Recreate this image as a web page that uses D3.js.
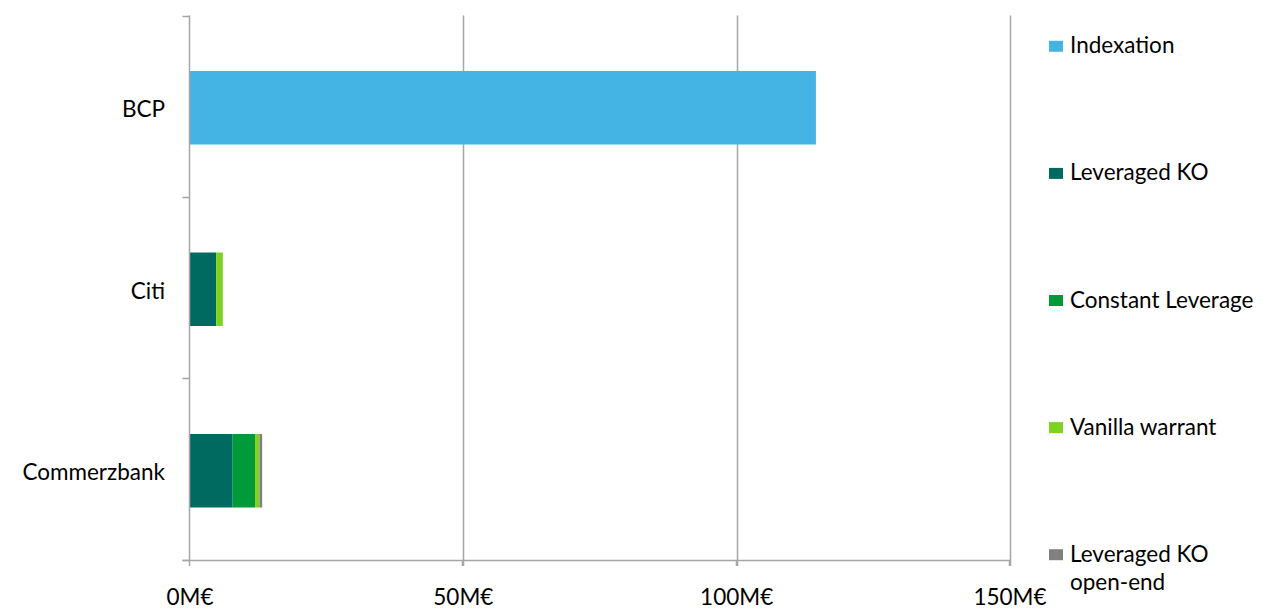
<!DOCTYPE html>
<html><head><meta charset="utf-8">
<script src="https://cdn.jsdelivr.net/npm/d3@7"></script>
<style>body{margin:0;background:#fff;}svg{display:block;font-family:Lato,"Open Sans",sans-serif;}</style>
</head><body>
<svg id="chart" width="1266" height="612"></svg>
<script>
const categories = ["BCP", "Citi", "Commerzbank"];
const seriesNames = ["Indexation", "Leveraged KO", "Constant Leverage", "Vanilla warrant", "Leveraged KO open-end"];
const seriesColors = ["#44b4e4", "#006a60", "#009a3a", "#7ed321", "#808080"];
const indexation = [114.5, 0, 0];
const leveragedKO = [0, 4.8, 7.8];
const constantLeverage = [0, 0, 4.1];
const vanillaWarrant = [0, 1.2, 0.8];
const leveragedKOOpenEnd = [0, 0, 0.5];
const xTicks = [0, 50, 100, 150];
const xTickLabels = ["0M€", "50M€", "100M€", "150M€"];

(function () {
const seriesValues = [indexation, leveragedKO, constantLeverage, vanillaWarrant, leveragedKOOpenEnd];
const rows = categories.map((c, i) => {
  const r = {cat: c};
  seriesNames.forEach((s, j) => r[s] = seriesValues[j][i]);
  return r;
});

const svg = d3.select("#chart");
const pLeft = 190, pRight = 1010, pTop = 15.5, pBottom = 560;
const x = d3.scaleLinear().domain([0, 150]).range([pLeft, pRight]);
const y = d3.scaleBand().domain(categories).range([pTop, pBottom]).paddingInner(0.595).paddingOuter(0.2975);
const grid = "#a6a6a6";
const fs = 22.5;

svg.append("g").selectAll("line").data(xTicks.slice(1)).join("line")
  .attr("x1", d => Math.round(x(d)) + 0.5).attr("x2", d => Math.round(x(d)) + 0.5)
  .attr("y1", pTop).attr("y2", pBottom + 6)
  .attr("stroke", grid).attr("stroke-width", 1.5);

const stack = d3.stack().keys(seriesNames)(rows);
svg.append("g").attr("transform", "translate(0,1.5)")
  .selectAll("g").data(stack).join("g")
  .attr("fill", (d, i) => seriesColors[i])
  .selectAll("rect").data(d => d).join("rect")
  .attr("x", d => x(d[0]))
  .attr("width", d => Math.max(0, x(d[1]) - x(d[0])))
  .attr("y", d => y(d.data.cat))
  .attr("height", y.bandwidth());

const step = y.step();
const bounds = [pTop].concat(categories.map(c => y(c) + y.bandwidth() + step * y.paddingInner() / 2));
svg.append("line").attr("x1", pLeft - 0.5).attr("x2", pLeft - 0.5).attr("y1", pTop).attr("y2", pBottom)
  .attr("stroke", grid).attr("stroke-width", 1.5);
svg.append("g").selectAll("line").data(bounds).join("line")
  .attr("x1", pLeft - 7.5).attr("x2", pLeft)
  .attr("y1", d => Math.round(d) + 0.5).attr("y2", d => Math.round(d) + 0.5)
  .attr("stroke", grid).attr("stroke-width", 1.5);

svg.append("line").attr("x1", pLeft - 7.5).attr("x2", pRight).attr("y1", pBottom + 0.5).attr("y2", pBottom + 0.5)
  .attr("stroke", grid).attr("stroke-width", 1.5);
svg.append("g").selectAll("line").data(xTicks).join("line")
  .attr("x1", d => Math.round(x(d)) - 0.5).attr("x2", d => Math.round(x(d)) - 0.5)
  .attr("y1", pBottom).attr("y2", pBottom + 6)
  .attr("stroke", grid).attr("stroke-width", 1.5);

svg.append("g").selectAll("text").data(xTicks).join("text")
  .attr("x", d => x(d)).attr("y", 605)
  .attr("text-anchor", "middle").attr("font-size", fs).attr("fill", "#000")
  .text((d, i) => xTickLabels[i]);

svg.append("g").selectAll("text").data(categories).join("text")
  .attr("x", 165).attr("y", d => y(d) + y.bandwidth() / 2 + 1.5 + 9.5)
  .attr("text-anchor", "end").attr("font-size", fs).attr("fill", "#000")
  .text(d => d);

const legendBase = 53.3, legendStep = 127.1;
const lg = svg.append("g").selectAll("g").data(seriesNames).join("g")
  .attr("transform", (d, i) => `translate(1049,${legendBase + i * legendStep})`);
lg.append("rect").attr("x", 0).attr("y", -12.5).attr("width", 14).attr("height", 11)
  .attr("fill", (d, i) => seriesColors[i]);
lg.append("text").attr("x", 21).attr("y", 0).attr("font-size", fs).attr("fill", "#000")
  .each(function(d) {
    const t = d3.select(this);
    if (d === "Leveraged KO open-end") {
      t.append("tspan").attr("x", 21).attr("dy", 0).text("Leveraged KO");
      t.append("tspan").attr("x", 21).attr("dy", 28).text("open-end");
    } else t.text(d);
  });
})();
</script>
</body></html>
